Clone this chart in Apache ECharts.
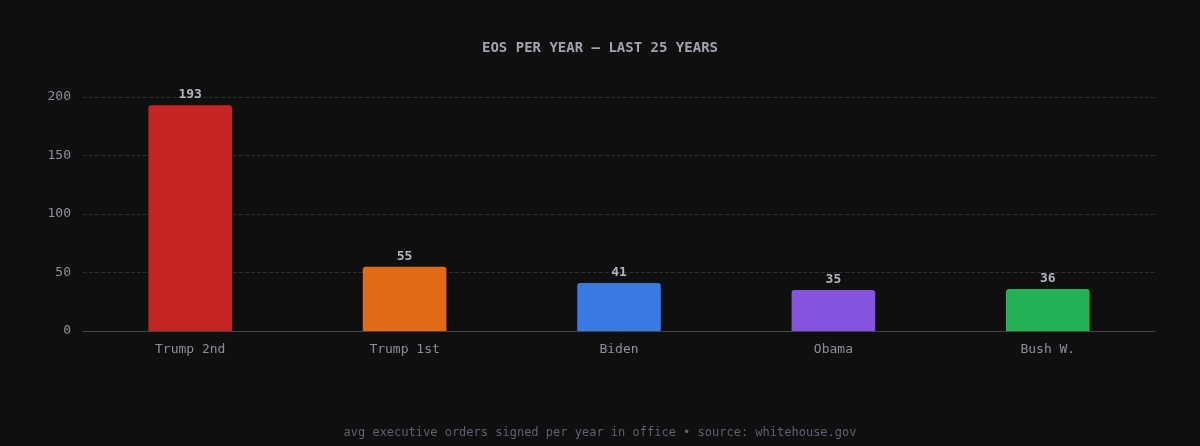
<!DOCTYPE html>
<html>
<head>
<meta charset="utf-8">
<script src="https://cdn.jsdelivr.net/npm/echarts@6/dist/echarts.min.js"></script>
<style>
  html, body { margin: 0; padding: 0; background: #0f0f0f; }
  #chart { width: 1200px; height: 446px; }
</style>
</head>
<body>
<div id="chart"></div>
<script>
var categories = ['Trump 2nd', 'Trump 1st', 'Biden', 'Obama', 'Bush W.'];
var values = [193, 55, 41, 35, 36];
var barColors = ['#c62424', '#e06a16', '#3a78e2', '#8454e0', '#22b255'];

var mono = '"DejaVu Sans Mono", monospace';
var chart = echarts.init(document.getElementById('chart'));

var option = {
  backgroundColor: '#0f0f0f',
  title: [{
    text: 'EOS PER YEAR — LAST 25 YEARS',
    left: 'center',
    top: 36,
    textStyle: { color: '#a0a4b0', fontFamily: mono, fontSize: 14, fontWeight: 'bold' }
  }, {
    text: 'avg executive orders signed per year in office • source: whitehouse.gov',
    left: 'center',
    top: 422,
    textStyle: { color: '#5c6270', fontFamily: mono, fontSize: 12, fontWeight: 'normal' }
  }],
  grid: { left: 83, right: 45, top: 97, bottom: 115 },
  xAxis: {
    type: 'category',
    data: categories,
    axisLine: { lineStyle: { color: '#444' } },
    axisTick: { show: false },
    axisLabel: { color: '#8a8f9a', fontFamily: mono, fontSize: 13, margin: 12 }
  },
  yAxis: {
    type: 'value',
    min: 0,
    max: 200,
    interval: 50,
    axisLine: { show: false },
    axisTick: { show: false },
    axisLabel: { color: '#8a8f9a', fontFamily: mono, fontSize: 13, margin: 12 },
    splitLine: { lineStyle: { color: '#2c2c2c', type: 'dashed' } }
  },
  series: [{
    type: 'bar',
    barWidth: '39%',
    data: values.map(function (v, i) {
      return { value: v, itemStyle: { color: barColors[i] } };
    }),
    itemStyle: { borderRadius: [3, 3, 0, 0] },
    label: {
      show: true,
      position: 'top',
      color: '#b0b4be',
      fontFamily: mono,
      fontSize: 13,
      fontWeight: 'bold',
      distance: 4
    }
  }]
};

chart.setOption(option);
</script>
</body>
</html>
